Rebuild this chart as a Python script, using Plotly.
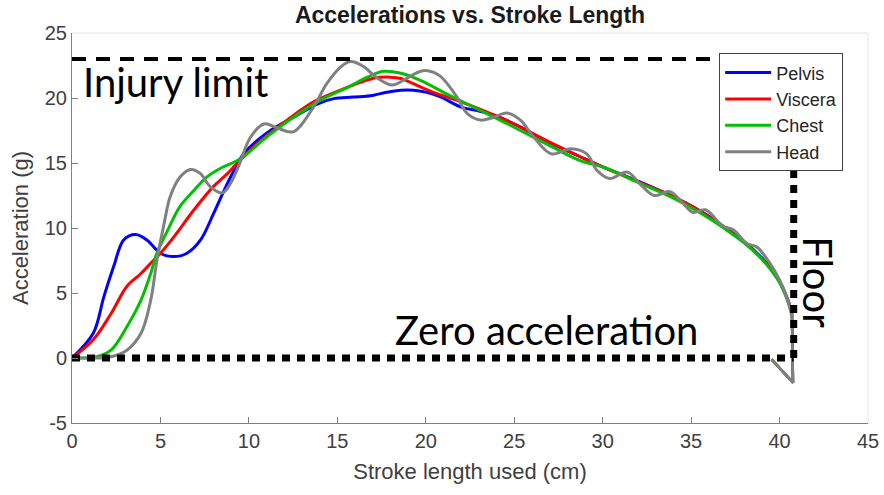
import plotly.graph_objects as go

# Stroke position (cm) and acceleration (g) for each body region
stroke_pelvis = [0, 1.2, 1.8, 2.36, 2.93, 3.6, 4.25, 5.0, 5.75, 6.5, 7.26, 8.0, 8.6, 9.15, 9.7,
                 11.0, 12.5, 14.0, 14.8, 15.9, 17.0, 17.8, 18.6, 19.3, 20.0, 20.8, 22.0, 23.0,
                 24.0, 25.3, 26.8, 28.7, 30, 32, 34, 35, 36, 37, 38, 39, 39.5, 40, 40.4, 40.7]
accel_pelvis = [0, 1.9, 4.7, 7.05, 9.1, 9.5, 9.06, 8.06, 7.8, 8.06, 9.06, 11.1, 12.9, 14.4, 15.7,
                17.3, 18.5, 19.6, 19.95, 20.07, 20.2, 20.45, 20.6, 20.6, 20.45, 20.1, 19.3, 19.0,
                18.6, 17.8, 16.7, 15.5, 14.7, 13.6, 12.4, 11.7, 10.9, 9.95, 8.95, 7.7, 6.9, 5.9, 4.7, 3.5]

stroke_viscera = [0, 1.2, 2.2, 3.1, 3.9, 4.6, 5.0, 5.75, 6.9, 8.0, 8.8, 9.5, 10.65, 12.16, 13.66,
                  15.17, 16.3, 17.2, 18.0, 18.6, 19.3, 20.4, 22.0, 23.5, 25.0, 26.85, 28.7, 30, 32,
                  34, 35, 36, 37, 38, 39, 39.5, 40, 40.4, 40.7]
accel_viscera = [0, 1.4, 3.4, 5.5, 6.5, 7.5, 8.06, 9.3, 11.4, 13.2, 14.2, 15.2, 16.7, 18.3, 19.7,
                 20.6, 21.2, 21.55, 21.6, 21.5, 21.1, 20.45, 19.7, 18.9, 18.0, 16.7, 15.5, 14.7, 13.55,
                 12.4, 11.7, 10.85, 9.9, 8.9, 7.65, 6.85, 5.85, 4.7, 3.5]

stroke_chest = [0, 1.4, 2.2, 3.1, 3.9, 4.45, 4.8, 5.4, 6.1, 6.9, 7.6, 8.4, 9.5, 11.0, 12.5, 14.0,
                15.55, 16.7, 17.6, 18.6, 19.7, 21.2, 22.7, 24.2, 25.7, 27.2, 28.7, 30.2, 32, 34,
                35.9, 37, 38, 39, 39.5, 40, 40.4, 40.7]
accel_chest = [0, 0.1, 0.6, 2.4, 4.45, 6.5, 8.06, 9.8, 11.65, 12.9, 13.9, 14.6, 15.3, 17.0, 18.5,
               19.8, 20.8, 21.6, 22.05, 21.9, 21.35, 20.3, 19.3, 18.3, 17.25, 16.2, 15.2, 14.6, 13.5,
               12.3, 10.85, 9.85, 8.85, 7.6, 6.8, 5.8, 4.6, 3.4]

stroke_head = [0, 1.0, 2.2, 3.1, 3.9, 4.45, 4.8, 5.2, 5.55, 6.1, 6.7, 7.25, 7.8, 8.5, 8.95, 9.4,
               10.1, 10.85, 11.6, 12.5, 13.65, 14.4, 15.2, 15.75, 16.5, 17.2, 18.1, 18.9, 19.6,
               20.1, 20.8, 21.75, 22.35, 23.1, 23.8, 24.6, 25.35, 26.1, 27.1, 28.2, 29.1, 29.7,
               30.4, 31.4, 32.1, 32.9, 33.8, 34.55, 35.1, 35.8, 36.8, 37.4, 38.15, 38.7, 39.45,
               40.0, 40.4, 40.7]
accel_head = [0, 0, 0.1, 0.6, 1.9, 4.45, 7.5, 10.3, 12.4, 13.9, 14.5, 14.2, 13.2, 12.7, 13.4, 14.7,
              17.0, 18.0, 17.7, 17.4, 19.3, 21.1, 22.4, 22.8, 22.4, 21.6, 21.0, 21.5, 22.0,
              22.1, 21.7, 20.1, 18.8, 18.3, 18.5, 18.84, 18.3, 17.0, 15.7, 16.1, 15.7, 14.4,
              13.8, 14.3, 13.4, 12.5, 12.8, 11.9, 11.2, 11.4, 10.15, 9.85, 8.8, 8.55, 7.3,
              6.0, 4.7, 3.2]

# Floor impact and rebound shared by all regions
rebound_stroke = [40.76, 39.55]
rebound_accel = [-1.9, -0.1]

INJURY_LIMIT = 23
FLOOR_STROKE = 40.8

x_ticks = [0, 5, 10, 15, 20, 25, 30, 35, 40, 45]
y_ticks = [-5, 0, 5, 10, 15, 20, 25]

series = [
    ("Pelvis", stroke_pelvis, accel_pelvis, "#0000ff"),
    ("Viscera", stroke_viscera, accel_viscera, "#ff0000"),
    ("Chest", stroke_chest, accel_chest, "#00c000"),
    ("Head", stroke_head, accel_head, "#808080"),
]

fig = go.Figure()
for name, xs, ys, color in series:
    fig.add_trace(go.Scatter(
        x=xs, y=ys, mode="lines", name=name,
        line=dict(color=color, width=3, shape="spline", smoothing=1.0),
    ))
    fig.add_trace(go.Scatter(
        x=[xs[-1]] + rebound_stroke, y=[ys[-1]] + rebound_accel, mode="lines",
        showlegend=False, hoverinfo="skip",
        line=dict(color=color, width=2.5),
    ))

# Reference lines: injury limit, zero acceleration and floor
fig.add_trace(go.Scatter(
    x=[0, FLOOR_STROKE], y=[INJURY_LIMIT, INJURY_LIMIT], mode="lines", showlegend=False,
    line=dict(color="black", width=4, dash="14px,10px"), hoverinfo="skip",
))
fig.add_trace(go.Scatter(
    x=[0, FLOOR_STROKE], y=[0, 0], mode="lines", showlegend=False,
    line=dict(color="black", width=7, dash="8px,7px"), hoverinfo="skip",
))
fig.add_trace(go.Scatter(
    x=[FLOOR_STROKE, FLOOR_STROKE], y=[0, INJURY_LIMIT], mode="lines", showlegend=False,
    line=dict(color="black", width=7, dash="8px,7px"), hoverinfo="skip",
))

big_font = dict(family="Lato", size=40, color="black")
fig.add_annotation(x=5.85, y=21.2, text="Injury limit", showarrow=False, font=big_font,
                   xanchor="center", yanchor="middle")
fig.add_annotation(x=26.8, y=2.15, text="Zero acceleration", showarrow=False, font=big_font,
                   xanchor="center", yanchor="middle")
fig.add_annotation(x=42.2, y=5.8, text="Floor", showarrow=False, font=big_font,
                   textangle=90, xanchor="center", yanchor="middle")

# faint upper and right box edges
for x0, y0, x1, y1 in [(0, 1, 1, 1), (1, 0, 1, 1)]:
    fig.add_shape(type="line", xref="paper", yref="paper", x0=x0, y0=y0, x1=x1, y1=y1,
                  line=dict(color="#e4e4e4", width=1), layer="below")

axis_style = dict(
    showline=True, linecolor="#808080", linewidth=1, ticks="inside", ticklen=6,
    tickcolor="#808080", showgrid=False, zeroline=False, automargin=False,
    tickfont=dict(family="Arial", size=20, color="#404040"),
)

fig.update_layout(
    width=884, height=495,
    margin=dict(l=72, r=16, t=33, b=72),
    paper_bgcolor="white", plot_bgcolor="white",
    title=dict(text="<b>Accelerations vs. Stroke Length</b>", x=0.5, xref="paper",
               y=1 - 15 / 495, yref="container", xanchor="center", yanchor="middle",
               font=dict(family="Arial", size=23, color="#1a1a1a")),
    xaxis=dict(range=[0, 45], tickvals=x_ticks, ticktext=[str(v) for v in x_ticks],
               **axis_style,
               title=dict(text="Stroke length used (cm)", standoff=12,
                          font=dict(family="Arial", size=22, color="#404040"))),
    yaxis=dict(range=[-5, 25], tickvals=y_ticks, ticktext=[str(v) for v in y_ticks],
               **axis_style,
               title=dict(text="Acceleration (g)", standoff=10,
                          font=dict(family="Arial", size=22, color="#404040"))),
    legend=dict(x=0.813, y=0.948, xanchor="left", yanchor="top", bgcolor="white",
                bordercolor="#404040", borderwidth=1, tracegroupgap=0, itemwidth=46,
                font=dict(family="Arial", size=18, color="#262626")),
    showlegend=True,
)

fig.write_html("out.html")
